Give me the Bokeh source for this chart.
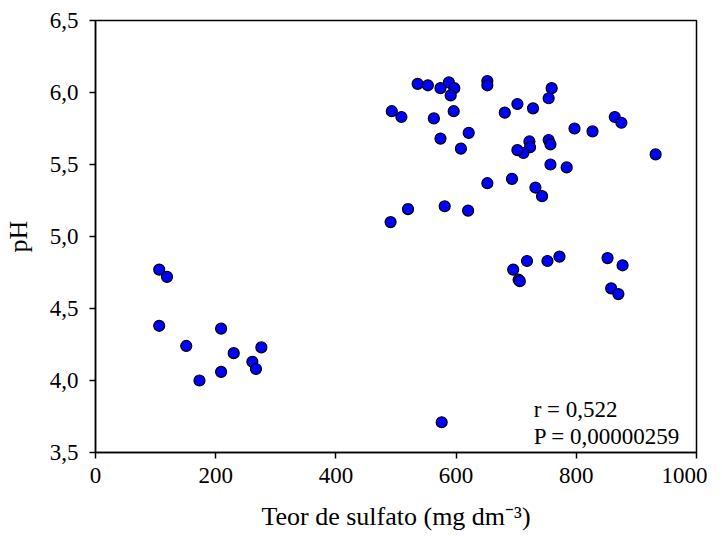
from bokeh.plotting import figure
from bokeh.models import Range1d, FixedTicker, Label
from bokeh.embed import file_html
from bokeh.resources import INLINE

# Data
sulfato = [106, 119, 106, 209, 151, 173, 209, 230, 261, 267, 276,
           536, 553, 574, 588, 597, 591, 652, 652, 759, 754,
           493, 509, 563, 596, 681, 702, 728,
           574, 621, 608, 722, 723, 712, 702, 754, 757, 757,
           652, 693, 732, 743,
           797, 827, 864, 875, 932, 784,
           491, 520, 581, 620,
           695, 704, 706, 718, 752, 772,
           852, 877, 858, 870,
           576]
ph = [4.77, 4.72, 4.38, 4.36, 4.24, 4.00, 4.06, 4.19, 4.13, 4.08, 4.23,
      6.06, 6.05, 6.03, 6.07, 6.03, 5.98, 6.08, 6.05, 6.03, 5.96,
      5.87, 5.83, 5.82, 5.87, 5.86, 5.92, 5.89,
      5.68, 5.72, 5.61, 5.66, 5.62, 5.58, 5.60, 5.67, 5.64, 5.50,
      5.37, 5.40, 5.34, 5.28,
      5.75, 5.73, 5.83, 5.79, 5.57, 5.48,
      5.10, 5.19, 5.21, 5.18,
      4.77, 4.70, 4.69, 4.83, 4.83, 4.86,
      4.85, 4.80, 4.64, 4.60,
      3.71]

x_ticks = [0, 200, 400, 600, 800, 1000]
x_tick_labels = ["0", "200", "400", "600", "800", "1000"]
y_ticks = [3.5, 4.0, 4.5, 5.0, 5.5, 6.0, 6.5]
y_tick_labels = ["3,5", "4,0", "4,5", "5,0", "5,5", "6,0", "6,5"]

x_label = "Teor de sulfato (mg dm\u207B\u00B3)"
y_label = "pH"
stats_lines = ["r = 0,522", "P = 0,00000259"]

FONT = "Liberation Serif"

p = figure(width=706, height=532, output_backend="svg", toolbar_location=None,
           x_range=Range1d(0, 1000), y_range=Range1d(3.5, 6.5),
           min_border_left=94, min_border_right=11, min_border_top=20,
           min_border_bottom=80)
p.frame_width = 601
p.frame_height = 432
p.grid.visible = False
p.background_fill_color = "white"
p.border_fill_color = "white"
p.outline_line_color = "black"
p.outline_line_width = 1.5
p.outline_line_alpha = 1.0

p.xaxis.ticker = FixedTicker(ticks=x_ticks)
p.yaxis.ticker = FixedTicker(ticks=y_ticks)
p.xaxis.major_label_overrides = {t: l for t, l in zip(x_ticks, x_tick_labels)}
p.yaxis.major_label_overrides = {t: l for t, l in zip(y_ticks, y_tick_labels)}

for ax in (p.xaxis, p.yaxis):
    ax.axis_line_color = "black"
    ax.axis_line_width = 1.5
    ax.major_tick_line_color = "black"
    ax.major_tick_line_width = 1.5
    ax.major_tick_out = 6
    ax.major_tick_in = 0
    ax.minor_tick_line_color = None
    ax.major_label_text_font = FONT
    ax.major_label_text_font_size = "23px"
    ax.major_label_text_color = "black"
    ax.axis_label_text_font = FONT
    ax.axis_label_text_font_size = "26px"
    ax.axis_label_text_font_style = "normal"
    ax.axis_label_text_color = "black"

p.xaxis.axis_label = x_label
p.yaxis.axis_label = y_label
p.xaxis.major_label_standoff = 9
p.yaxis.major_label_standoff = 11
p.xaxis.axis_label_standoff = 16
p.yaxis.axis_label_standoff = 14

p.scatter(sulfato, ph, size=11, fill_color="#0000FF", line_color="black",
          line_width=1.2, marker="circle")

p.add_layout(Label(x=729, y=3.80, text=stats_lines[0], text_font=FONT,
                   text_font_size="23px", text_color="black",
                   text_baseline="alphabetic"))
p.add_layout(Label(x=729, y=3.61, text=stats_lines[1], text_font=FONT,
                   text_font_size="23px", text_color="black",
                   text_baseline="alphabetic"))

open("out.html", "w").write(file_html(p, INLINE))
